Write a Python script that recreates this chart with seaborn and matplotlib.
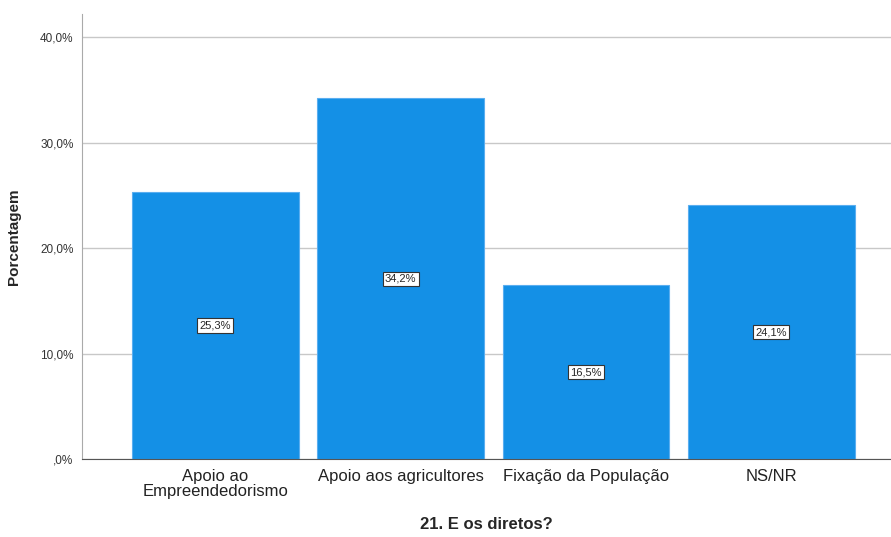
import matplotlib
matplotlib.use('Agg')
import matplotlib.pyplot as plt
import seaborn as sns
import pandas as pd

categorias = ['Apoio ao\nEmpreendedorismo', 'Apoio aos agricultores', 'Fixação da População', 'NS/NR']
porcentagens = [25.3, 34.2, 16.5, 24.1]
rotulos = ['25,3%', '34,2%', '16,5%', '24,1%']
yticks = [0, 10, 20, 30, 40]
ytick_labels = [',0%', '10,0%', '20,0%', '30,0%', '40,0%']

df = pd.DataFrame({'cat': categorias, 'pct': porcentagens})

sns.set_style('white')
plt.rcParams['font.family'] = ['Liberation Sans', 'DejaVu Sans']

fig = plt.figure(figsize=(8.91, 5.37), dpi=100)
ax = fig.add_axes([0.092, 0.145, 0.908, 0.829])
ax.set_axisbelow(True)
ax.yaxis.grid(True, color='#c8c8c8', linewidth=1)

sns.barplot(data=df, x='cat', y='pct', color='#1490e6', saturation=1, width=0.9,
            edgecolor='#5aaef0', linewidth=0.8, ax=ax)

for i, (v, t) in enumerate(zip(porcentagens, rotulos)):
    ax.text(i, v / 2, t, ha='center', va='center', fontsize=8,
            bbox=dict(boxstyle='square,pad=0.2', facecolor='white', edgecolor='#333333', linewidth=0.8))

ax.set_ylim(0, 42.2)
ax.set_xlim(-0.718, 3.645)
ax.set_yticks(yticks)
ax.set_yticklabels(ytick_labels, fontsize=8.5, color='#333333')
ax.tick_params(axis='x', labelsize=12, colors='#222222', length=0, pad=7)
ax.tick_params(axis='y', length=0, pad=6)
for lbl in ax.get_xticklabels():
    lbl.set_linespacing(1.0)

ax.set_ylabel('Porcentagem', fontsize=11, fontweight='bold', labelpad=14)
ax.set_xlabel('21. E os diretos?', fontsize=12, fontweight='bold', labelpad=13)

for s in ['top', 'right']:
    ax.spines[s].set_visible(False)
ax.spines['left'].set_color('#aaaaaa')
ax.spines['bottom'].set_color('#555555')

fig.savefig('out.png', dpi=100)
